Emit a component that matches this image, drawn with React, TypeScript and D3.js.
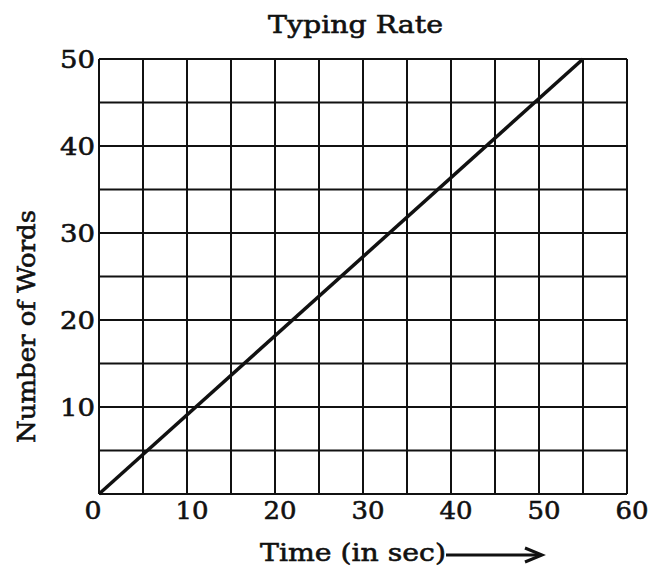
import React from "react";
import * as d3 from "d3";

const timeSec = [0, 55];
const words = [0, 50];
const xTickLabels = [0, 10, 20, 30, 40, 50, 60];
const yTickLabels = [10, 20, 30, 40, 50];
const xGrid = d3.range(0, 61, 5);
const yGrid = d3.range(0, 51, 5);

const W = 658;
const H = 569;
const left = 99;
const right = 627;
const top = 59;
const bottom = 494;
const FONT = "'DejaVu Serif', serif";
const textStyle = { fontFamily: FONT, fontWeight: 400, fill: "#111", stroke: "#111", strokeWidth: 0.6 };

export default function App() {
  const x = d3.scaleLinear().domain([0, 60]).range([left, right]);
  const y = d3.scaleLinear().domain([0, 50]).range([bottom, top]);
  const line = d3
    .line<number>()
    .x((_, i) => x(timeSec[i]))
    .y((_, i) => y(words[i]));
  return (
    <svg
      width={W}
      height={H}
      style={{ position: "absolute", left: 0, top: 0, background: "#fff" }}
    >
      <rect width={W} height={H} fill="#fff" />
      <text x={268} y={33} style={textStyle} fontSize={25} textLength={175} lengthAdjust="spacingAndGlyphs">
        Typing Rate
      </text>
      {xGrid.map((v) => (
        <line key={"vx" + v} x1={x(v)} x2={x(v)} y1={y(0)} y2={y(50)} stroke="#111" strokeWidth={2} />
      ))}
      {yGrid.map((v) => (
        <line key={"hy" + v} x1={x(0)} x2={x(60)} y1={y(v)} y2={y(v)} stroke="#111" strokeWidth={2} />
      ))}
      <path d={line(timeSec) || ""} fill="none" stroke="#111" strokeWidth={3.5} />
      {xTickLabels.map((v) => (
        <text key={"xt" + v} x={x(v) + (v === 0 ? -6 : 5)} y={519} textAnchor="middle" style={textStyle} fontSize={25} textLength={v === 0 ? 17 : 33} lengthAdjust="spacingAndGlyphs">
          {v}
        </text>
      ))}
      {yTickLabels.map((v) => (
        <text key={"yt" + v} x={95} y={y(v)} dy="0.36em" textAnchor="end" style={textStyle} fontSize={25} textLength={35} lengthAdjust="spacingAndGlyphs">
          {v}
        </text>
      ))}
      <text
        transform={`translate(35,443) rotate(-90)`}
        style={textStyle}
        fontSize={24}
        textLength={233}
        lengthAdjust="spacingAndGlyphs"
      >
        Number of Words
      </text>
      <text x={260} y={561} style={textStyle} fontSize={25} textLength={186} lengthAdjust="spacingAndGlyphs">
        Time (in sec)
      </text>
      <line x1={446} x2={541} y1={555} y2={555} stroke="#111" strokeWidth={3} />
      <path d="M525,548 L542,555 L525,562" fill="none" stroke="#111" strokeWidth={3} />
    </svg>
  );
}
